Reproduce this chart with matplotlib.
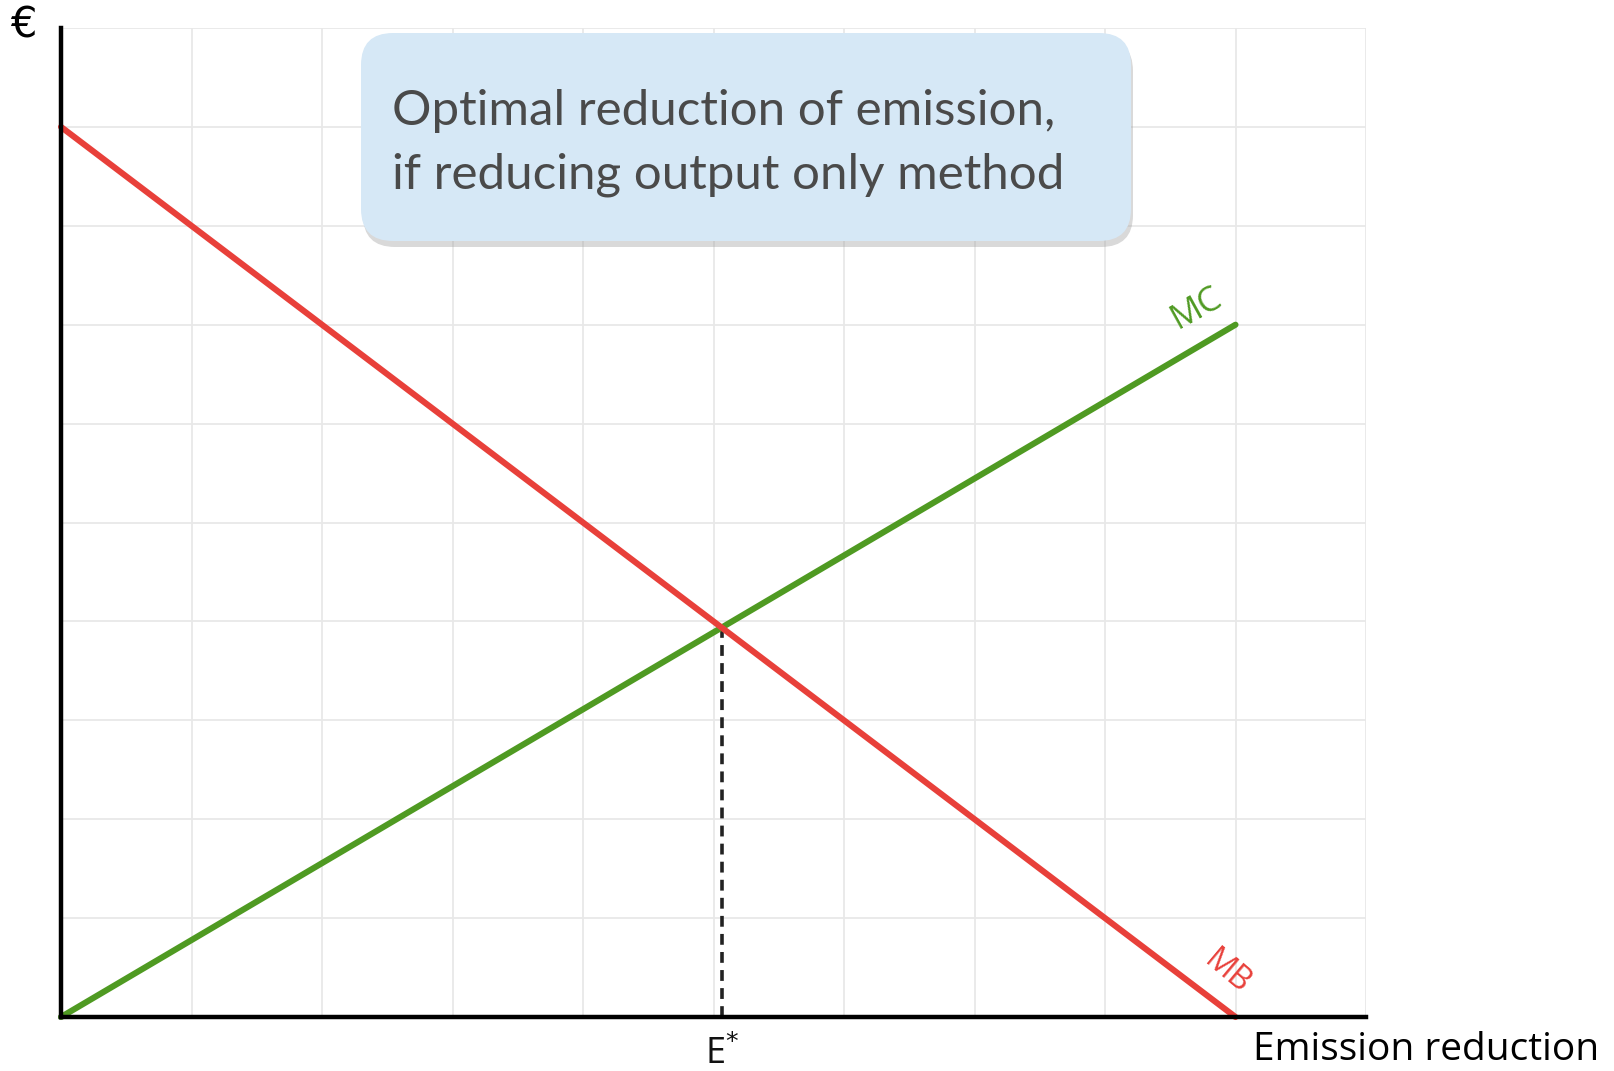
import numpy as np
import matplotlib
matplotlib.use("Agg")
import matplotlib.pyplot as plt
from matplotlib.patches import FancyBboxPatch

# chart data (grid units)
x_max = 10
y_max = 10
mb_x = [0, 9]
mb_y = [9, 0]
mc_x = [0, 9]
mc_y = [0, 7]
box_lines = ["Optimal reduction of emission,", "if reducing output only method"]
x_label = "Emission reduction"
y_label = "€"

red = "#e8403a"
green = "#4f9a22"

fig = plt.figure(figsize=(16.14, 10.71), dpi=100)
ax = fig.add_axes([61 / 1614, 54 / 1071, (1366 - 61) / 1614, (1017 - 28) / 1071])
ax.set_xlim(0, x_max)
ax.set_ylim(0, y_max)
ax.set_xticks(np.arange(0, x_max + 1))
ax.set_yticks(np.arange(0, y_max + 1))
ax.grid(True, color="#e8e8e8", linewidth=1.3)
ax.tick_params(length=0, labelbottom=False, labelleft=False)
ax.set_axisbelow(True)
for s in ["top", "right"]:
    ax.spines[s].set_visible(False)
for s in ["left", "bottom"]:
    ax.spines[s].set_linewidth(3.2)
    ax.spines[s].set_color("black")
    ax.spines[s].set_zorder(5)

# curves
ax.plot(mc_x, mc_y, color=green, lw=4.4, solid_capstyle="round", zorder=3, clip_on=False)
ax.plot(mb_x, mb_y, color=red, lw=4.4, solid_capstyle="round", zorder=4, clip_on=False)

# equilibrium
mb_slope = (mb_y[1] - mb_y[0]) / (mb_x[1] - mb_x[0])
mc_slope = (mc_y[1] - mc_y[0]) / (mc_x[1] - mc_x[0])
e_star = (mb_y[0] - mc_y[0]) / (mc_slope - mb_slope)
p_star = mc_y[0] + mc_slope * e_star
ax.plot([e_star, e_star], [0, p_star], color="#222222", lw=2.6, ls=(0, (3, 2)), zorder=2)

# curve labels
ax.text(8.70, 7.17, "MC", color=green, rotation=29, fontsize=25,
        family="Open Sans", ha="center", va="center", rotation_mode="anchor")
ax.text(8.94, 0.45, "MB", color=red, rotation=-40, fontsize=23,
        family="Open Sans", ha="center", va="center", rotation_mode="anchor")

# axis labels
fig.text(23 / 1614, 1 - 25 / 1071, y_label, fontsize=30, ha="center", va="center",
         family="DejaVu Sans", color="black")
fig.text(1253 / 1614, 1 - 1050 / 1071, x_label, fontsize=28, ha="left", va="center",
         family="Open Sans", color="black")
fig.text(e_star * 130.5 / 1614 + 61 / 1614, 1 - 1055 / 1071, "E$^{*}$", fontsize=26,
         ha="center", va="center", family="Open Sans", color="#111111")

# title box with shadow
bx0, by0, bw, bh = 3.61, 8.30, 7.70, 2.08
shadow = FancyBboxPatch((bx0 + 0.02, by0 - 0.06), bw, bh,
                        boxstyle="round,pad=0,rounding_size=0.32",
                        transform=fig.dpi_scale_trans, facecolor="#a0a0a0",
                        edgecolor="none", alpha=0.4, zorder=10)
box = FancyBboxPatch((bx0, by0), bw, bh, boxstyle="round,pad=0,rounding_size=0.32",
                     transform=fig.dpi_scale_trans, facecolor="#d6e8f6",
                     edgecolor="none", zorder=11)
fig.patches.extend([shadow, box])
fig.text(392 / 1614, 1 - 111 / 1071, box_lines[0], fontsize=35.5, family="Lato",
         color="#4a4a4a", ha="left", va="center", zorder=12)
fig.text(392 / 1614, 1 - 175 / 1071, box_lines[1], fontsize=35.5, family="Lato",
         color="#4a4a4a", ha="left", va="center", zorder=12)

fig.savefig("out.png", dpi=100)
